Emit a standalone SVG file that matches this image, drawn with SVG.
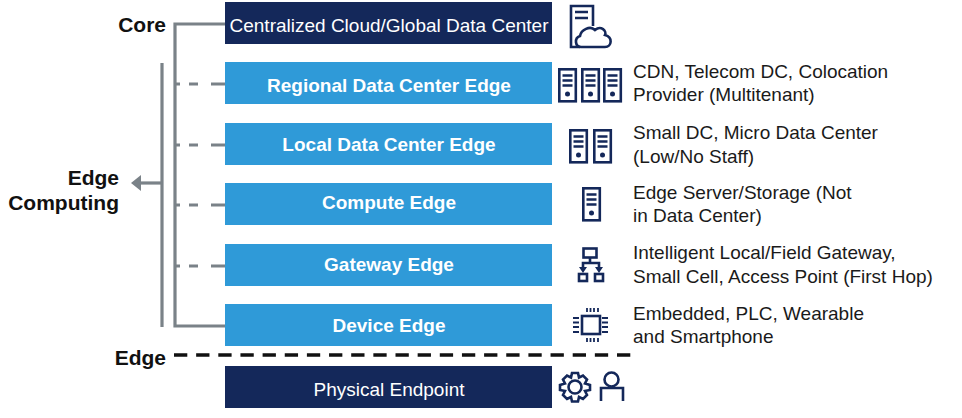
<svg xmlns="http://www.w3.org/2000/svg" width="962" height="418" viewBox="0 0 962 418">
<style>
text{font-family:"Liberation Sans",Arial,sans-serif}
.bar{font-size:19px;fill:#fff;text-anchor:middle}
.b{font-weight:bold}
.side{font-size:19px;fill:#1a1a1a}
.head{font-size:21px;font-weight:bold;fill:#111;text-anchor:end}
.navy{fill:#14285a}
.blue{fill:#2f9ad8}
.con{fill:none;stroke:#7a8288;stroke-width:3.2}
.ic{fill:none;stroke:#14285a;stroke-width:2.6}
.icf{fill:#14285a}
</style>
<defs>
<g id="srv">
<rect class="ic" x="1.300" y="1.300" width="16.500" height="32"/>
<path class="ic" d="M4.500 7.500h10M4.500 12.500h10M4.500 17.500h10"/>
<circle class="icf" cx="9.500" cy="26" r="2.500"/>
</g>
</defs>
<g id="connectors">
<path class="con" d="M225 24H175V326H225"/>
<path class="con" d="M162 63V327"/>
<path class="con" d="M161 183H139"/>
<path d="M131 183L141 175V191Z" fill="#7a8288"/>
<path class="con" d="M176 84H180M189 84H198M211 84H225"/>
<path class="con" d="M176 145H180M189 145H198M211 145H225"/>
<path class="con" d="M176 205H180M189 205H198M211 205H225"/>
<path class="con" d="M176 266H180M189 266H198M211 266H225"/>
<path d="M174 355H631" fill="none" stroke="#111" stroke-width="3.600" stroke-dasharray="13.300 8.850"/>
</g>
<text class="head" x="166" y="32">Core</text>
<text class="head" x="119" y="185">Edge</text>
<text class="head" x="119" y="210">Computing</text>
<text class="head" x="166" y="365">Edge</text>
<g id="n-cloud">
<rect class="navy" x="225" y="2" width="327" height="42"/>
<text class="bar" x="389" y="32">Centralized Cloud/Global Data Center</text>
<path class="ic" d="M580 47H571V6H593V26"/>
<path class="ic" d="M575 12H588M575 18H588"/>
<path class="ic" fill="#fff" style="fill:#fff" d="M581 47C575 47 574 38 580 36C581 30 590 25 595 30C601 25 607 31 605 35C613 37 612 47 605 47Z"/>
</g>
<g id="n-regional">
<rect class="blue" x="225" y="62" width="327" height="42"/>
<text class="bar b" x="389" y="92">Regional Data Center Edge</text>
<use href="#srv" x="558" y="68"/><use href="#srv" x="581" y="68"/><use href="#srv" x="603" y="68"/>
<text class="side" x="633" y="78">CDN, Telecom DC, Colocation</text>
<text class="side" x="633" y="101">Provider (Multitenant)</text>
</g>
<g id="n-local">
<rect class="blue" x="225" y="123" width="327" height="42"/>
<text class="bar b" x="389" y="151">Local Data Center Edge</text>
<use href="#srv" x="569" y="129"/><use href="#srv" x="593" y="129"/>
<text class="side" x="633" y="139">Small DC, Micro Data Center</text>
<text class="side" x="633" y="163">(Low/No Staff)</text>
</g>
<g id="n-compute">
<rect class="blue" x="225" y="183" width="327" height="42"/>
<text class="bar b" x="389" y="209">Compute Edge</text>
<use href="#srv" x="582" y="187"/>
<text class="side" x="633" y="199">Edge Server/Storage (Not</text>
<text class="side" x="633" y="222">in Data Center)</text>
</g>
<g id="n-gateway">
<rect class="blue" x="225" y="244" width="327" height="42"/>
<text class="bar b" x="389" y="271">Gateway Edge</text>
<rect class="ic" x="583.500" y="248.500" width="13" height="9"/>
<rect class="ic" x="579" y="274" width="8" height="7"/>
<rect class="ic" x="595" y="274" width="8" height="7"/>
<path class="ic" d="M590 257V263M583 268V263H599V268"/>
<path class="icf" d="M579 267h8l-4 6zM595 267h8l-4 6z"/>
<text class="side" x="633" y="259">Intelligent Local/Field Gateway,</text>
<text class="side" x="633" y="283">Small Cell, Access Point (First Hop)</text>
</g>
<g id="n-device">
<rect class="blue" x="225" y="304" width="327" height="42"/>
<text class="bar b" x="389" y="332">Device Edge</text>
<rect class="ic" x="582" y="316" width="18" height="18"/>
<path class="ic" stroke-width="1.800" style="stroke-width:1.800" d="M573 318h6M573 322.500h6M573 327h6M573 332h6M602 318h6M602 322.500h6M602 327h6M602 332h6M587 308v4M590.500 308v4M594 308v4M598 308v4M587 338v4M590.500 338v4M594 338v4M598 338v4"/>
<text class="side" x="633" y="320">Embedded, PLC, Wearable</text>
<text class="side" x="633" y="343">and Smartphone</text>
</g>
<g id="n-endpoint">
<rect class="navy" x="225" y="366" width="327" height="42"/>
<text class="bar" x="389" y="396">Physical Endpoint</text>
<circle class="ic" cx="575" cy="387" r="6.500"/>
<path class="ic" d="M572 373H578L579 377.500L583 375.500L587 379.500L585 383.500L590 385V390L585 391L587 395L583 399L579 397L578 401.500H572L571 397L567 399L563 395L565 391L560 390V385L565 383.500L563 379.500L567 375.500L571 377.500Z"/>
<circle class="ic" cx="611.500" cy="379.500" r="7"/>
<path class="ic" d="M601 401V388H623V401"/>
</g>
</svg>
